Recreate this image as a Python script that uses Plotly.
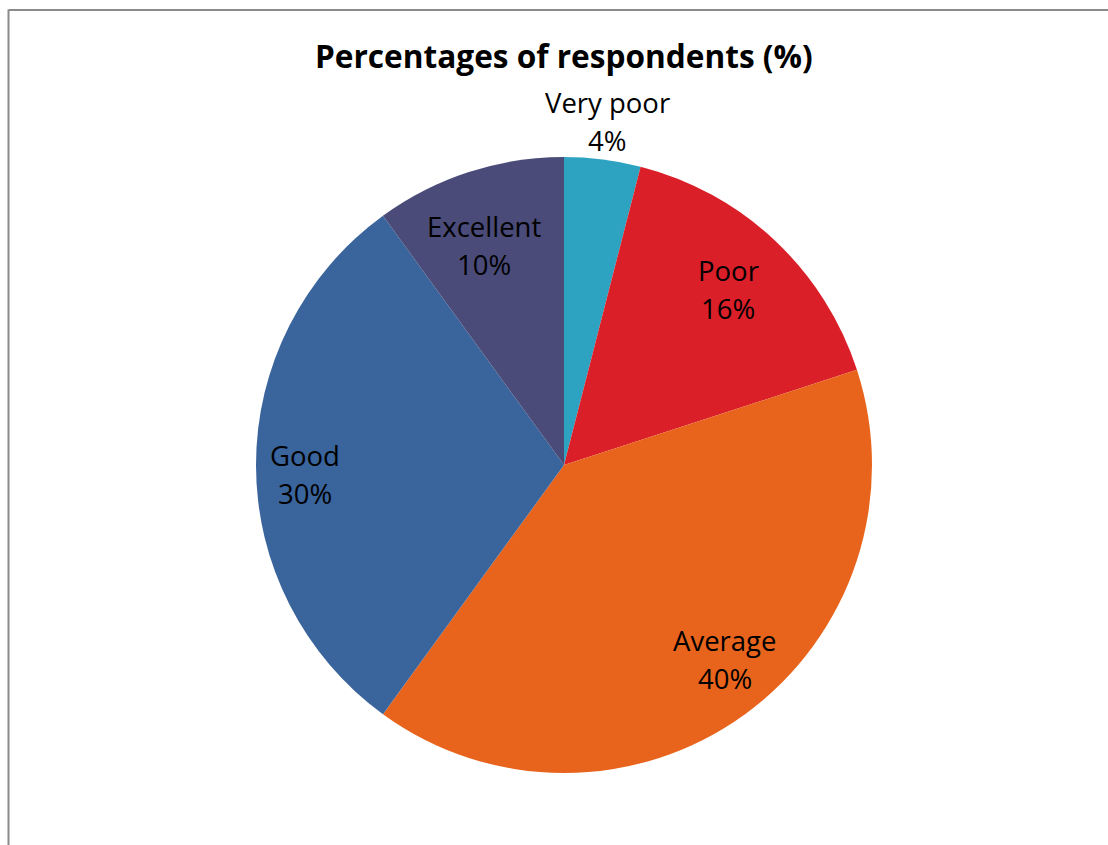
import math
import plotly.graph_objects as go

# Survey rating shares, clockwise from 12 o'clock
categories = ["Very poor", "Poor", "Average", "Good", "Excellent"]
shares = [4, 16, 40, 30, 10]
colors = ["#2ea3c1", "#da1f28", "#e8641c", "#3a649c", "#4a4b79"]
# data label placement: radius as a fraction of the pie radius,
# and a small angular nudge (degrees) from the slice's mid-angle
label_radius = [1.125, 0.78, 0.82, 0.84, 0.76]
label_nudge = [0, 0, -3.5, -2, -2]

W, H = 1108, 845
cx, cy, R = 564, 465, 308  # pie centre and radius in pixels

fig = go.Figure(go.Pie(
    labels=categories,
    values=shares,
    sort=False,
    direction="clockwise",
    rotation=0,
    marker=dict(colors=colors, line=dict(width=0)),
    textinfo="none",
    hoverinfo="label+percent",
    showlegend=False,
    domain=dict(x=[(cx - R) / W, (cx + R) / W],
                y=[(H - cy - R) / H, (H - cy + R) / H]),
))

font_family = "Open Sans, Liberation Sans, sans-serif"
total = sum(shares)
annotations = []
cum = 0
for name, val, rf, nd in zip(categories, shares, label_radius, label_nudge):
    mid = (cum + val / 2) / total * 2 * math.pi + math.radians(nd)
    cum += val
    px = cx + rf * R * math.sin(mid)
    py = cy - rf * R * math.cos(mid)
    for line, shift in ((name, 19), (f"{round(val / total * 100)}%", -19)):
        annotations.append(dict(
            x=px / W, y=1 - py / H, xref="paper", yref="paper",
            xanchor="center", yanchor="middle",
            text=line, showarrow=False, yshift=shift,
            font=dict(family=font_family, size=27.5, color="#000000"),
        ))

annotations.append(dict(
    x=564 / W, y=1 - 56 / H, xref="paper", yref="paper",
    xanchor="center", yanchor="middle",
    text="<b>Percentages of respondents (%)</b>", showarrow=False,
    font=dict(family=font_family, size=31.6, color="#000000"),
))

fig.update_layout(
    width=W, height=H,
    margin=dict(l=0, r=0, t=0, b=0),
    paper_bgcolor="#ffffff",
    plot_bgcolor="#ffffff",
    annotations=annotations,
    shapes=[
        dict(type="line", xref="paper", yref="paper",
             x0=8.5 / W, x1=8.5 / W, y0=0, y1=1 - 9.5 / H,
             line=dict(color="#8a8a8a", width=2)),
        dict(type="line", xref="paper", yref="paper",
             x0=8.5 / W, x1=1, y0=1 - 10 / H, y1=1 - 10 / H,
             line=dict(color="#8a8a8a", width=2)),
    ],
)

fig.write_html("out.html")
